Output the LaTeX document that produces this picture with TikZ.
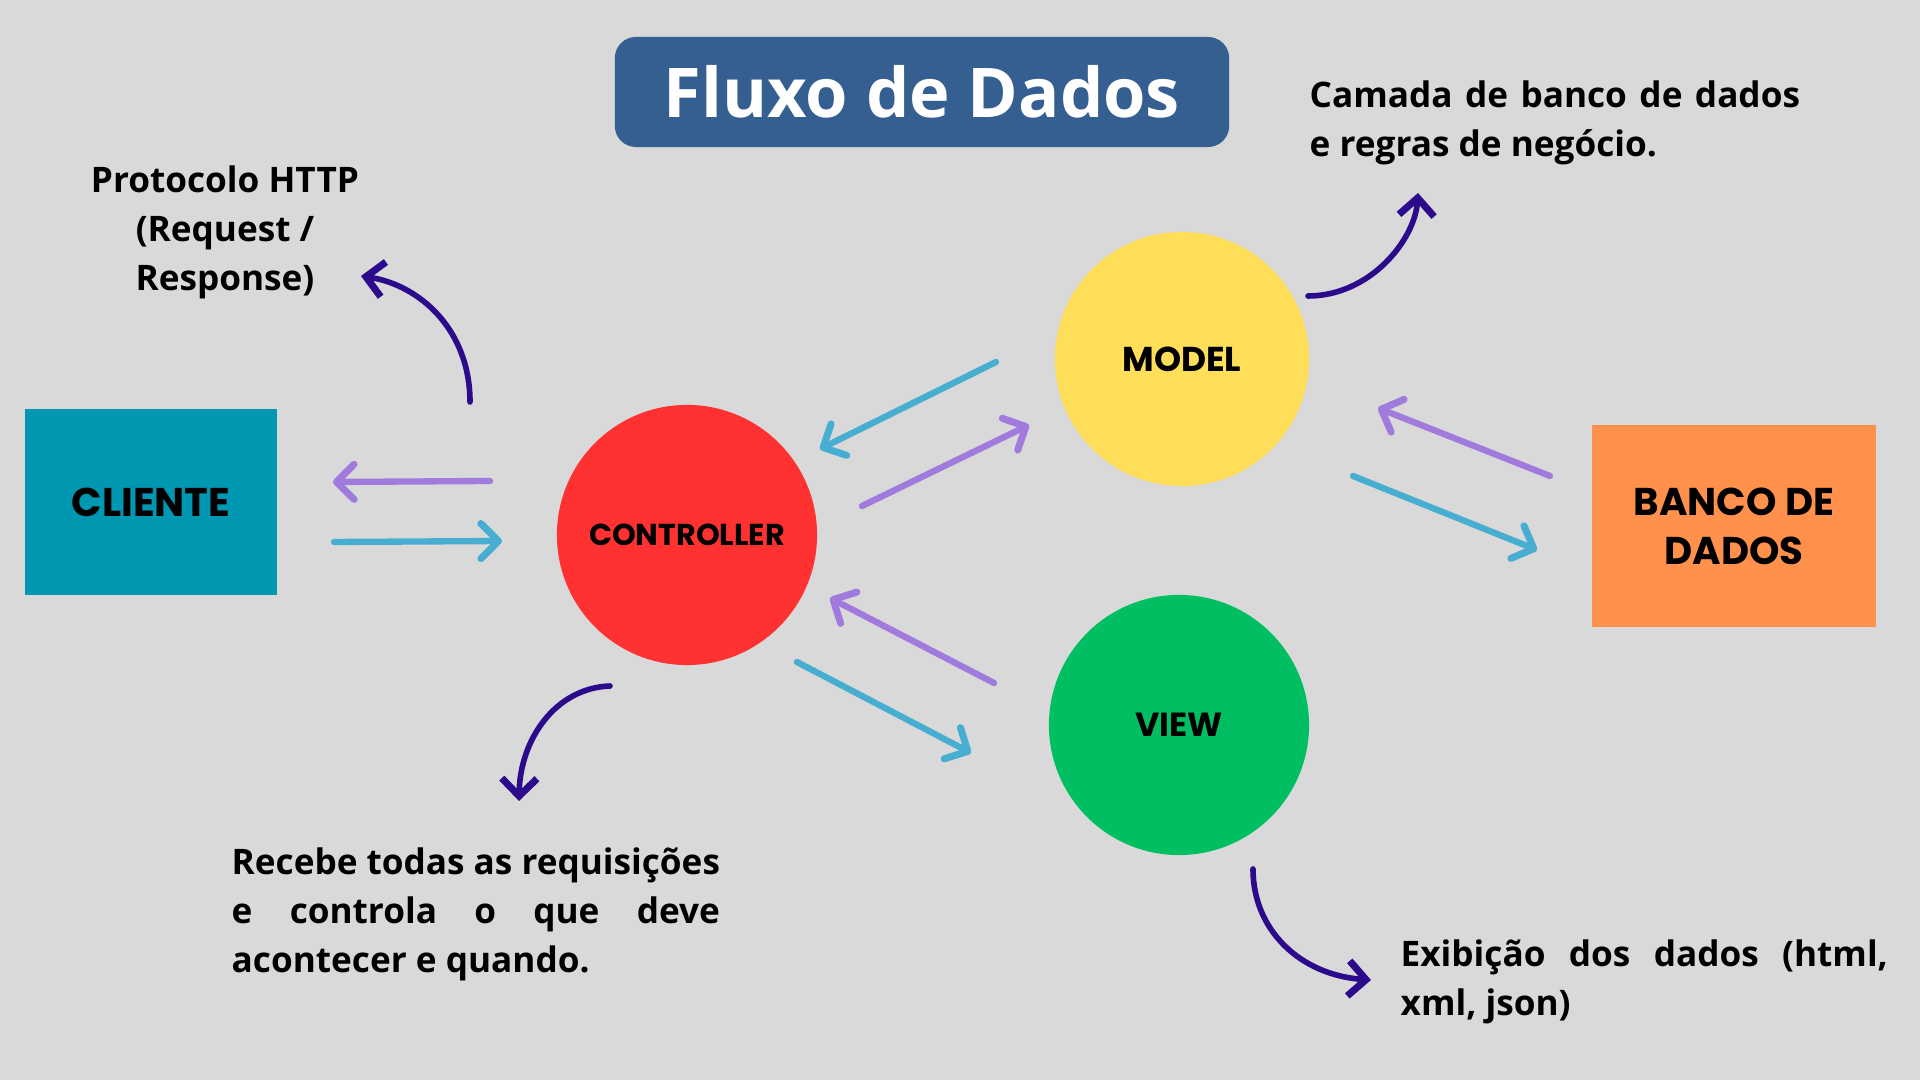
\documentclass[tikz,border=0pt]{standalone}
\usepackage{fontspec}
\setmainfont{Open Sans}
\newfontfamily\caixafont{Poppins}
\usepackage{xcolor}
\usetikzlibrary{positioning,calc,arrows.meta}

\definecolor{fundo}{HTML}{D9D9D9}
\definecolor{titulo}{HTML}{355F91}
\definecolor{cliente}{HTML}{0097B2}
\definecolor{controle}{HTML}{FF3131}
\definecolor{modelo}{HTML}{FFDE59}
\definecolor{visao}{HTML}{00BF63}
\definecolor{banco}{HTML}{FF914D}
\definecolor{roxo}{HTML}{A07ADC}
\definecolor{azul}{HTML}{47AED1}
\definecolor{anil}{HTML}{2C0A8C}
\hyphenpenalty=10000

\begin{document}
\begin{tikzpicture}[x=0.01cm, y=-0.01cm,
	fluxo/.style={line width=1.8pt, line cap=round, -{Straight Barb[round, length=5pt, width=10pt, line width=2pt]}},
	nota/.style={anil, line width=1.6pt, line cap=round, -{Straight Barb[length=5pt, width=10pt, line width=2pt]}},
	texto/.style={font=\fontsize{10}{13.9}\selectfont\bfseries, inner sep=0pt},
	bola/.style={circle, inner sep=0pt, font=\caixafont\bfseries}]
						\fill[fundo] (0,0) rectangle (1920,1080);
						\useasboundingbox (0,0) rectangle (1920,1080);
						% caixas e circulos
						\node[fill=titulo, rounded corners=6pt, minimum width=6.14cm, minimum height=1.1cm, text=white, font=\fontsize{19.5}{24}\selectfont\bfseries] (titulo) at (922,92) {Fluxo de Dados};
						\node[fill=cliente, minimum width=2.51cm, minimum height=1.86cm, font=\caixafont\bfseries\fontsize{11.4}{13}\selectfont] (cli) at (151,502) {CLIENTE};
						\node[bola, fill=controle, minimum size=2.6cm, font=\caixafont\bfseries\fontsize{8.6}{10}\selectfont] (ctrl) at (687,535) {CONTROLLER};
						\node[bola, fill=modelo, minimum size=2.54cm, font=\caixafont\bfseries\fontsize{9.8}{11}\selectfont] (model) at (1182,359) {MODEL};
						\node[bola, fill=visao, minimum size=2.6cm, font=\caixafont\bfseries\fontsize{9.5}{11}\selectfont] (view) at (1179,725) {VIEW};
						\node[fill=banco, minimum width=2.83cm, minimum height=2.01cm, align=center, font=\caixafont\bfseries\fontsize{11}{14}\selectfont] (db) at (1734,526) {BANCO DE\\DADOS};
						% textos
						\node[texto, align=center] (http) at (225,232) {Protocolo HTTP\\(Request /\\Response)};
						\node[texto, anchor=west, text width=4.9cm, align=justify] (camada) at (1309,123) {Camada de banco de dados e regras de negócio.};
						\node[texto, anchor=west, text width=4.88cm, align=justify] (recebe) at (231,914) {Recebe todas as requisições e controla o que deve acontecer e quando.};
						\node[texto, anchor=west, text width=4.87cm, align=justify] (exib) at (1400,982) {Exibição dos dados (html, xml, json)};
						% pontas das setas
						\coordinate (c1) at (490,481);  \coordinate (c2) at (333,482);
						\coordinate (c3) at (334,542);  \coordinate (c4) at (502,541);
						\coordinate (m1) at (996,362);  \coordinate (m2) at (820,449);
						\coordinate (m3) at (862,506);  \coordinate (m4) at (1029,425);
						\coordinate (v1) at (994,683);  \coordinate (v2) at (830,598);
						\coordinate (v3) at (797,662);  \coordinate (v4) at (971,753);
						\coordinate (b1) at (1550,476); \coordinate (b2) at (1378,408);
						\coordinate (b3) at (1353,476); \coordinate (b4) at (1537,550);
						\draw[fluxo, roxo] (c1) -- (c2);
						\draw[fluxo, azul] (c3) -- (c4);
						\draw[fluxo, azul] (m1) -- (m2);
						\draw[fluxo, roxo] (m3) -- (m4);
						\draw[fluxo, roxo] (v1) -- (v2);
						\draw[fluxo, azul] (v3) -- (v4);
						\draw[fluxo, roxo] (b1) -- (b2);
						\draw[fluxo, azul] (b3) -- (b4);
						% setas curvas
						\coordinate (h1) at (470,402);  \coordinate (h2) at (361,276);
						\coordinate (n1) at (1308,296); \coordinate (n2) at (1418,193);
						\coordinate (r1) at (610,686);  \coordinate (r2) at (519,801);
						\coordinate (e1) at (1253,869); \coordinate (e2) at (1371,980);
						\draw[nota] (h1) .. controls (470,330) and (420,285) .. (h2);
						\draw[nota] (n1) .. controls (1370,296) and (1415,240) .. (n2);
						\draw[nota] (r1) .. controls (555,688) and (520,740) .. (r2);
						\draw[nota] (e1) .. controls (1253,930) and (1300,975) .. (e2);
					\end{tikzpicture}
\end{document}
